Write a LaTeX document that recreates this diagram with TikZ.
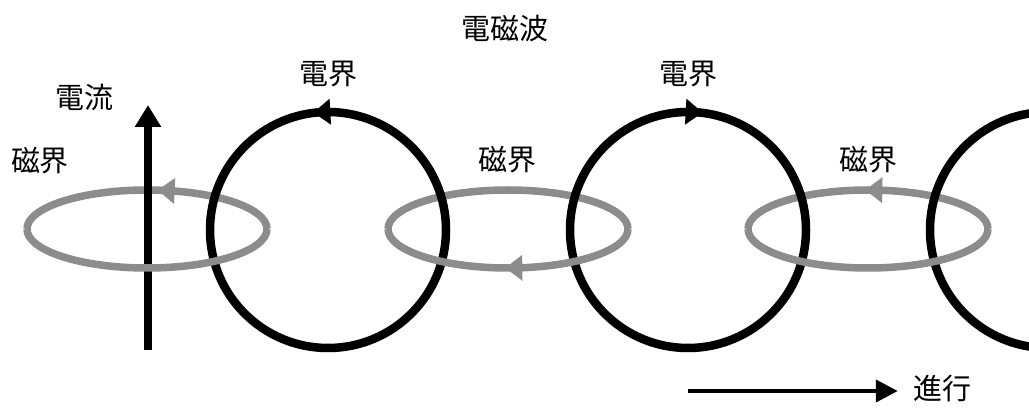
\documentclass[tikz,border=0pt]{standalone}
\usepackage{fontspec}
\setmainfont{Noto Sans CJK JP}
\usetikzlibrary{arrows.meta,decorations.markings}
\definecolor{ringgray}{RGB}{140,140,140}
\tikzset{
  lbl/.style={font=\fontsize{29}{32}\selectfont, inner sep=0pt},
  efield/.style={line width=8.5pt, black},
  bfield/.style={line width=7.5pt, ringgray},
  bhead/.style={postaction={decorate,decoration={markings,mark=at position #1 with {\fill[ringgray] (8pt,0) -- (-9pt,13pt) -- (-9pt,-13pt) -- cycle;}}}},
  bheadrev/.style={postaction={decorate,decoration={markings,mark=at position #1 with {\fill[ringgray] (-8pt,0) -- (9pt,13pt) -- (9pt,-13pt) -- cycle;}}}},
  ehead/.style={postaction={decorate,decoration={markings,mark=at position #1 with {\fill[black] (8pt,0) -- (-9pt,13pt) -- (-9pt,-13pt) -- cycle;}}}},
  eheadrev/.style={postaction={decorate,decoration={markings,mark=at position #1 with {\fill[black] (-8pt,0) -- (9pt,13pt) -- (9pt,-13pt) -- cycle;}}}},
}
\begin{document}
\begin{tikzpicture}[x=1pt,y=1pt]
\useasboundingbox (0,0) rectangle (1029,410);
\clip (0,0) rectangle (1029,410);
% centres
\coordinate (e1) at (147,181);
\coordinate (e2) at (508,181);
\coordinate (e3) at (868,181);
\coordinate (c1) at (328,180);
\coordinate (c2) at (688,180);
\coordinate (c3) at (1048,180);
% ellipse upper halves (behind)
\draw[bfield, bhead=0.43] ([xshift=120pt]e1) arc[start angle=0,end angle=180,x radius=120,y radius=39];
\draw[bfield] ([xshift=120pt]e2) arc[start angle=0,end angle=180,x radius=120,y radius=39];
\draw[bfield, bhead=0.48] ([xshift=120pt]e3) arc[start angle=0,end angle=180,x radius=120,y radius=39];
% circles
\draw[efield, ehead=0.259] (c1) circle[radius=118];
\draw[efield, eheadrev=0.241] (c2) circle[radius=118];
\draw[efield] (c3) circle[radius=118];
% current arrow
\coordinate (cb) at (148,60);
\coordinate (ct) at (148,305);
\draw[line width=7.5pt, -{Triangle[length=22pt,width=25pt]}] (cb) -- (ct);
% ellipse lower halves (in front)
\draw[bfield] ([xshift=-120pt]e1) arc[start angle=180,end angle=360,x radius=120,y radius=39];
\draw[bfield, bheadrev=0.52] ([xshift=-120pt]e2) arc[start angle=180,end angle=360,x radius=120,y radius=39];
\draw[bfield] ([xshift=-120pt]e3) arc[start angle=180,end angle=360,x radius=120,y radius=39];
% labels
\node[lbl] (title) at (505,382) {電磁波};
\node[lbl] (ef1) at (328,336) {電界};
\node[lbl] (ef2) at (688,336) {電界};
\node[lbl] (cur) at (84,313) {電流};
\node[lbl] (mf1) at (40,249) {磁界};
\node[lbl] (mf2) at (507,250) {磁界};
\node[lbl] (mf3) at (868,250) {磁界};
\node[lbl] (prog) at (942,21) {進行};
% propagation arrow
\coordinate (pa) at (688,19);
\draw[line width=4pt, shorten >=15pt, -{Triangle[length=22pt,width=22pt]}] (pa) -- (pa -| prog.west);
\end{tikzpicture}
\end{document}
